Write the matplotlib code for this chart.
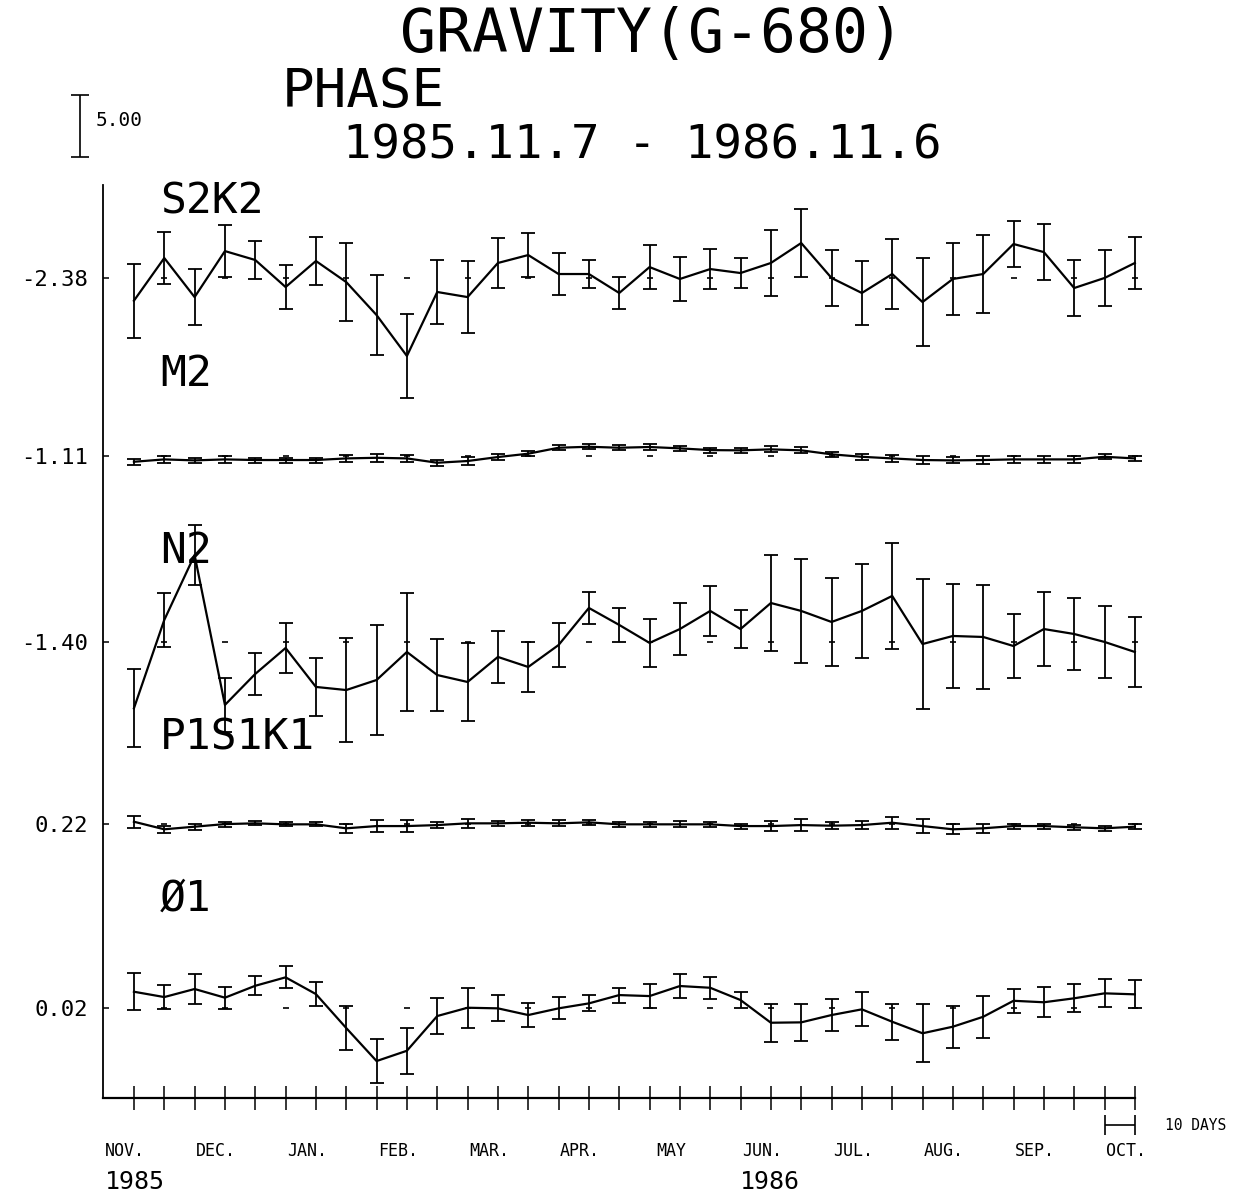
import numpy as np
import matplotlib.pyplot as plt

# 34 ten-day periods, 1985.11.7 - 1986.11.6
periods = np.arange(34)
months = ['NOV.', 'DEC.', 'JAN.', 'FEB.', 'MAR.', 'APR.', 'MAY',
          'JUN.', 'JUL.', 'AUG.', 'SEP.', 'OCT.']
month_pos = np.arange(0, 34, 3)

names = ['S2K2', 'M2', 'N2', 'P1S1K1', 'Ø1']
means = [-2.38, -1.11, -1.40, 0.22, 0.02]
mean_labels = ['-2.38', '-1.11', '-1.40', '0.22', '0.02']

# phase (deg) and error (deg) for each 10-day period
s2k2 = [-4.23, -0.79, -3.94, -0.23, -0.95, -3.13, -1.03, -2.73, -5.39, -8.69,
        -3.53, -3.94, -1.19, -0.55, -2.08, -2.08, -3.61, -1.52, -2.48, -1.68,
        -2.00, -1.19, 0.42, -2.40, -3.61, -2.08, -4.34, -2.48, -2.08, 0.34,
        -0.31, -3.21, -2.40, -1.19]
s2k2_err = [2.98, 2.10, 2.26, 2.10, 1.53, 1.77, 1.94, 3.15, 3.23, 3.39,
            2.58, 2.90, 2.02, 1.77, 1.69, 1.13, 1.29, 1.77, 1.77, 1.61,
            1.21, 2.66, 2.74, 2.26, 2.58, 2.82, 3.55, 2.90, 3.15, 1.85,
            2.26, 2.26, 2.26, 2.10]

m2 = [-1.57, -1.38, -1.46, -1.38, -1.43, -1.43, -1.43, -1.30, -1.25, -1.30,
      -1.65, -1.51, -1.19, -0.92, -0.44, -0.36, -0.44, -0.38, -0.49, -0.63,
      -0.65, -0.57, -0.65, -0.97, -1.17, -1.30, -1.43, -1.46, -1.43, -1.38,
      -1.38, -1.38, -1.17, -1.30]
m2_err = [0.25, 0.30, 0.20, 0.25, 0.20, 0.20, 0.20, 0.25, 0.30, 0.30,
          0.25, 0.30, 0.25, 0.20, 0.20, 0.20, 0.20, 0.25, 0.20, 0.20,
          0.20, 0.25, 0.25, 0.20, 0.25, 0.25, 0.30, 0.25, 0.30, 0.25,
          0.25, 0.25, 0.20, 0.20]

n2 = [-6.77, 0.35, 5.59, -6.50, -4.00, -1.91, -5.05, -5.30, -4.49, -2.23,
      -4.09, -4.65, -2.63, -3.44, -1.67, 1.32, -0.05, -1.50, -0.38, 1.08,
      -0.38, 1.72, 1.08, 0.19, 1.08, 2.29, -1.59, -0.94, -1.02, -1.75,
      -0.38, -0.78, -1.42, -2.23]
n2_err = [3.15, 2.18, 2.42, 2.18, 1.69, 2.02, 2.34, 4.19, 4.44, 4.76,
          2.90, 3.15, 2.10, 2.02, 1.77, 1.29, 1.37, 1.94, 2.10, 2.02,
          1.53, 3.87, 4.19, 3.55, 3.79, 4.27, 5.24, 4.19, 4.19, 2.58,
          2.98, 2.90, 2.90, 2.82]

p1s1k1 = [0.43, -0.18, 0.03, 0.24, 0.30, 0.22, 0.22, -0.10, 0.08, 0.08,
          0.16, 0.30, 0.30, 0.35, 0.30, 0.38, 0.22, 0.22, 0.22, 0.22,
          0.08, 0.08, 0.16, 0.11, 0.16, 0.35, 0.08, -0.18, -0.10, 0.08,
          0.08, -0.02, -0.10, 0.03]
p1s1k1_err = [0.50, 0.30, 0.25, 0.20, 0.15, 0.15, 0.15, 0.35, 0.45, 0.45,
              0.25, 0.35, 0.20, 0.25, 0.25, 0.20, 0.20, 0.20, 0.25, 0.20,
              0.20, 0.40, 0.45, 0.30, 0.35, 0.50, 0.55, 0.40, 0.35, 0.20,
              0.20, 0.20, 0.20, 0.20]

o1 = [1.31, 0.88, 1.53, 0.83, 1.79, 2.47, 1.12, -1.62, -4.28, -3.45,
      -0.65, 0.02, -0.03, -0.57, -0.03, 0.37, 1.04, 0.96, 1.77, 1.63,
      0.64, -1.19, -1.16, -0.57, -0.11, -1.11, -2.04, -1.51, -0.71, 0.58,
      0.46, 0.78, 1.18, 1.10]
o1_err = [1.49, 0.97, 1.21, 0.89, 0.77, 0.89, 0.97, 1.77, 1.77, 1.85,
          1.45, 1.61, 1.05, 0.97, 0.89, 0.65, 0.60, 0.97, 0.97, 0.89,
          0.65, 1.53, 1.49, 1.29, 1.37, 1.45, 2.34, 1.69, 1.69, 0.97,
          1.21, 1.13, 1.13, 1.13]

series = [s2k2, m2, n2, p1s1k1, o1]
errors = [s2k2_err, m2_err, n2_err, p1s1k1_err, o1_err]

# vertical placement of each series (deg from axis bottom) and its name
offsets = [66.15, 51.77, 36.80, 22.07, 7.28]
name_y = [72.3, 58.4, 44.1, 29.1, 16.1]

W, H = 1247, 1196
PX_DEG = 12.4          # pixels per degree
mono = 'DejaVu Sans Mono'

fig = plt.figure(figsize=(W / 100, H / 100), dpi=100)
ax = fig.add_axes([103 / W, 98 / H, 1047 / W, 913 / H])
ax.set_xlim(-1.02, 33.5)
ax.set_ylim(0, 913 / PX_DEG)

for vals, err, mean, off, name, ny in zip(series, errors, means, offsets, names, name_y):
    y = off + np.array(vals) - mean
    ax.errorbar(periods, y, yerr=err, fmt='-', color='black', lw=1.6,
                elinewidth=1.3, capsize=4.8, capthick=1.3)
    # little dash at the mean level, every other period (20 days)
    ax.plot(periods[1::2], np.full(len(periods[1::2]), off), ls='none',
            marker='_', ms=5, mew=1.2, color='black')
    ax.text(0.86, ny, name, family=mono, fontsize=31, ha='left', va='center')

# axes styling
for side in ['top', 'right']:
    ax.spines[side].set_visible(False)
ax.spines['bottom'].set_bounds(-1.02, 33)
ax.spines['left'].set_linewidth(1.3)
ax.spines['bottom'].set_linewidth(1.6)

ax.set_xticks(periods)
ax.set_xticklabels([])
ax.tick_params(axis='x', direction='inout', length=17, width=1.1)
ax.set_yticks(offsets)
ax.set_yticklabels(mean_labels, family=mono, fontsize=16)
ax.tick_params(axis='y', direction='in', length=4.5, width=1.1, pad=11)

for m, lab in zip(month_pos, months):
    ax.text(m - 0.3, -4.3, lab, family=mono, fontsize=12, ha='center', va='center')
ax.text(-0.96, -6.8, '1985', family=mono, fontsize=18, ha='left', va='center')
ax.text(19.98, -6.8, '1986', family=mono, fontsize=18, ha='left', va='center')

# 10 days scale
eb = ax.errorbar(32.5, -2.18, xerr=0.5, color='black', lw=1.2, capsize=7.5, capthick=1.2)
for a in eb.get_children():
    a.set_clip_on(False)
ax.text(34.0, -2.18, '10 DAYS', family=mono, fontsize=10.5, ha='left', va='center')

# 5.00 deg scale bar
eb = ax.errorbar(-1.78, 78.4, yerr=2.5, color='black', lw=1.2, capsize=6.5, capthick=1.2)
for a in eb.get_children():
    a.set_clip_on(False)
fig.text(96 / W, 1 - 120 / H, '5.00', family=mono, fontsize=14, ha='left', va='center')

# titles
fig.text(400 / W, 1 - 35 / H, 'GRAVITY(G-680)', family=mono, fontsize=43, ha='left', va='center')
fig.text(282 / W, 1 - 92 / H, 'PHASE', family=mono, fontsize=39, ha='left', va='center')
fig.text(343 / W, 1 - 146 / H, '1985.11.7 - 1986.11.6', family=mono, fontsize=34,
         ha='left', va='center')

fig.savefig('out.png', dpi=100, facecolor='white')
